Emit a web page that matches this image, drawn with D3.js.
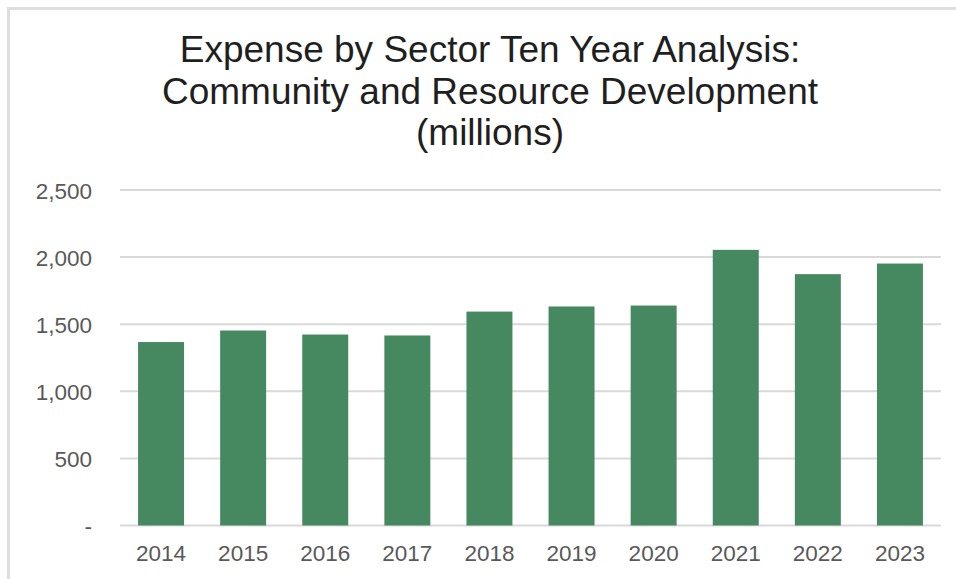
<!DOCTYPE html>
<html>
<head>
<meta charset="utf-8">
<script src="https://cdn.jsdelivr.net/npm/d3@7"></script>
<style>
  html, body { margin: 0; padding: 0; background: #fff; }
  svg { display: block; }
</style>
</head>
<body>
<svg id="chart" width="956" height="579"></svg>
<script>
const titleLines = ["Expense by Sector Ten Year Analysis:", "Community and Resource Development", "(millions)"];
const years = ["2014", "2015", "2016", "2017", "2018", "2019", "2020", "2021", "2022", "2023"];
const expense = [1367, 1453, 1423, 1416, 1594, 1632, 1639, 2054, 1873, 1952];
const yTicks = [0, 500, 1000, 1500, 2000, 2500];

const svg = d3.select("#chart");
const W = 956, H = 579;

svg.append("rect").attr("width", W).attr("height", H).attr("fill", "#fff");

// frame (top and left edges visible)
svg.append("path")
  .attr("d", `M8.5,${H} L8.5,8.5 L${W},8.5`)
  .attr("fill", "none").attr("stroke", "#dedede").attr("stroke-width", 3);

const x = d3.scaleBand().domain(years).range([120, 941]).paddingInner(0.44).paddingOuter(0.22);
const y = d3.scaleLinear().domain([0, 2500]).range([525.5, 190]);

// gridlines
svg.append("g")
  .selectAll("line").data(yTicks).join("line")
  .attr("x1", 120).attr("x2", 941)
  .attr("y1", d => y(d)).attr("y2", d => y(d))
  .attr("stroke", "#d9d9d9").attr("stroke-width", 2);

// bars
svg.append("g")
  .selectAll("rect").data(expense).join("rect")
  .attr("x", (d, i) => x(years[i]))
  .attr("width", x.bandwidth())
  .attr("y", d => y(d))
  .attr("height", d => y(0) - y(d))
  .attr("fill", "#46885f");

// y axis labels
const yAxis = d3.axisLeft(y).tickValues(yTicks)
  .tickFormat(d => d === 0 ? "-" : d3.format(",")(d))
  .tickSize(0).tickPadding(0);
const gy = svg.append("g").attr("transform", "translate(92,0)").call(yAxis);
gy.select(".domain").remove();
gy.selectAll("text")
  .attr("fill", "#595959")
  .attr("font-family", "Liberation Sans, Arial, sans-serif")
  .attr("font-size", 22.5)
  .attr("dy", "0.36em");

// x axis labels
const xAxis = d3.axisBottom(x).tickSize(0).tickPadding(0);
const gx = svg.append("g").attr("transform", "translate(0,561)").call(xAxis);
gx.select(".domain").remove();
gx.selectAll("text")
  .attr("fill", "#595959")
  .attr("font-family", "Liberation Sans, Arial, sans-serif")
  .attr("font-size", 22.5)
  .attr("dy", "0em");

// title
svg.append("g").selectAll("text").data(titleLines).join("text")
  .attr("x", 490)
  .attr("y", (d, i) => 62 + i * 41.5)
  .attr("text-anchor", "middle")
  .attr("font-family", "Liberation Sans, Arial, sans-serif")
  .attr("font-size", 37)
  .attr("fill", "#1f1f1f")
  .text(d => d);
</script>
</body>
</html>
